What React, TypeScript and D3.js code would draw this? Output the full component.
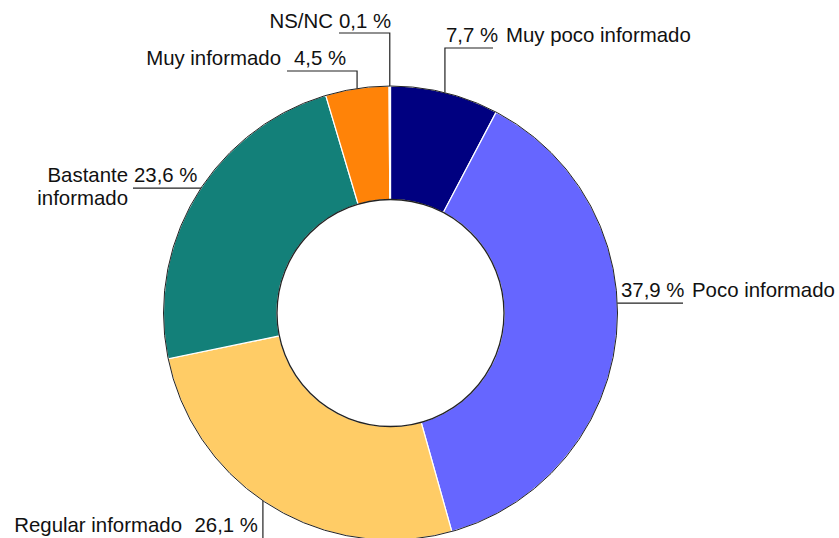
import React from "react";
import * as d3 from "d3";

const categories = [
  "Muy poco informado",
  "Poco informado",
  "Regular informado",
  "Bastante informado",
  "Muy informado",
  "NS/NC",
];
const values = [7.7, 37.9, 26.1, 23.6, 4.5, 0.1];
const valueLabels = ["7,7 %", "37,9 %", "26,1 %", "23,6 %", "4,5 %", "0,1 %"];
const colors = ["#000080", "#6666ff", "#ffcc66", "#138079", "#ff8308", "#ffffff"];

const W = 839;
const H = 538;
const CX = 390.5;
const CY = 313;
const R = 227;
const RIN = 113.5;
const FONT = 20.4;

// label layout (annotation positions)
type Layout = {
  angle: number | null; // contact angle in degrees (null = slice mid-angle)
  mode: "v" | "h"; // leader: vertical then horizontal, or horizontal only
  elbow: number; // y of elbow (mode v) or unused
  end: number; // x where leader ends
  nameLines: string[];
  nameX: number;
  nameAnchor: "start" | "end";
  valueX: number;
  valueAnchor: "start" | "end";
  baseline: number;
};

const layouts: Layout[] = [
  { angle: null, mode: "v", elbow: 48, end: 493, nameLines: ["Muy poco informado"], nameX: 506, nameAnchor: "start", valueX: 446, valueAnchor: "start", baseline: 42 },
  { angle: 87.5, mode: "h", elbow: 0, end: 683, nameLines: ["Poco informado"], nameX: 692, nameAnchor: "start", valueX: 621, valueAnchor: "start", baseline: 297 },
  { angle: 214.2, mode: "v", elbow: 560, end: 263, nameLines: ["Regular informado"], nameX: 182, nameAnchor: "end", valueX: 258, valueAnchor: "end", baseline: 532 },
  { angle: 303.4, mode: "h", elbow: 0, end: 133, nameLines: ["Bastante", "informado"], nameX: 128, nameAnchor: "end", valueX: 134, valueAnchor: "start", baseline: 182 },
  { angle: null, mode: "v", elbow: 71, end: 287, nameLines: ["Muy informado"], nameX: 281, nameAnchor: "end", valueX: 294, valueAnchor: "start", baseline: 65 },
  { angle: null, mode: "v", elbow: 33, end: 339, nameLines: ["NS/NC"], nameX: 333, nameAnchor: "end", valueX: 339, valueAnchor: "start", baseline: 28 },
];

export default function App() {
  const data = categories.map((c, i) => ({ name: c, value: values[i], i }));
  const pie = d3.pie<any>().sort(null).value((d) => d.value);
  const arcs = pie(data);
  const arcGen = d3.arc<any>().innerRadius(RIN).outerRadius(R);

  return (
    <div style={{ position: "absolute", left: 0, top: 0 }}>
      <svg width={W} height={H} style={{ display: "block", background: "#fff" }} fontFamily="'Liberation Sans', Arial, sans-serif">
        <g transform={`translate(${CX},${CY})`}>
          {arcs.map((a, i) => (
            <path key={i} d={arcGen(a) as string} fill={colors[i]} stroke="#ffffff" strokeWidth={1.2} />
          ))}
          <circle r={R} fill="none" stroke="#222" strokeWidth={1} />
          <circle r={RIN} fill="#fff" stroke="#222" strokeWidth={1.3} />
        </g>
        {arcs.map((a, i) => {
          const L = layouts[i];
          const angDeg = L.angle === null ? ((a.startAngle + a.endAngle) / 2) * 180 / Math.PI : L.angle;
          const t = (angDeg * Math.PI) / 180;
          const px = CX + R * Math.sin(t);
          const py = CY - R * Math.cos(t);
          let d: string;
          if (L.mode === "v") {
            const ey = Math.min(L.elbow, H + 5);
            d = `M${px},${py}L${px},${ey}L${L.end},${ey}`;
          } else {
            d = `M${px},${py}L${L.end},${py}`;
          }
          return (
            <g key={"l" + i}>
              <path d={d} fill="none" stroke="#222" strokeWidth={1.2} />
              <text x={L.valueX} y={L.baseline} textAnchor={L.valueAnchor} fontSize={FONT} fill="#111">
                {valueLabels[i]}
              </text>
              {L.nameLines.map((ln, k) => (
                <text key={k} x={L.nameX} y={L.baseline + k * 23} textAnchor={L.nameAnchor} fontSize={FONT} fill="#111">
                  {ln}
                </text>
              ))}
            </g>
          );
        })}
      </svg>
    </div>
  );
}
